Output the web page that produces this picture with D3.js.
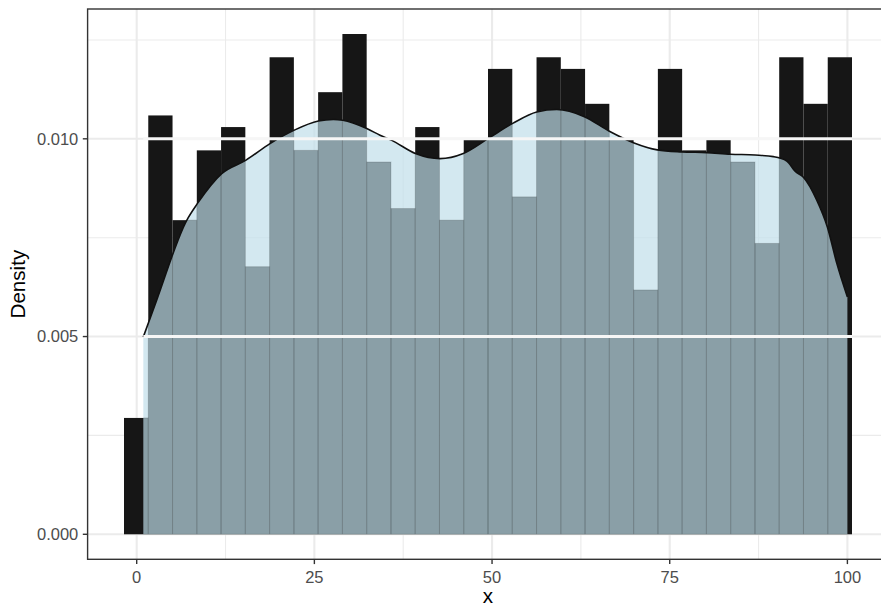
<!DOCTYPE html>
<html>
<head>
<meta charset="utf-8">
<script src="https://cdn.jsdelivr.net/npm/d3@7"></script>
<style>
  html, body { margin: 0; padding: 0; background: #fff; }
  svg { display: block; }
  text { font-family: "Liberation Sans", Arial, sans-serif; }
</style>
</head>
<body>
<div id="chart"></div>
<script>
// ---------------- data ----------------
const binEdges = [-1.787, 1.628, 5.042, 8.457, 11.871, 15.286, 18.700, 22.115, 25.529, 28.944,
  32.358, 35.773, 39.187, 42.602, 46.016, 49.431, 52.845, 56.260, 59.674, 63.089,
  66.503, 69.918, 73.332, 76.747, 80.161, 83.576, 86.990, 90.405, 93.819, 97.234, 100.648];
const binDensity = [0.002942, 0.010591, 0.007943, 0.009708, 0.010297, 0.006766, 0.012062, 0.009708,
  0.011179, 0.012650, 0.009414, 0.008237, 0.010297, 0.007943, 0.010002, 0.011768, 0.008532,
  0.012062, 0.011768, 0.010885, 0.010002, 0.006178, 0.011768, 0.009708, 0.010002, 0.009414,
  0.007355, 0.012062, 0.010885, 0.012062];
const densityX = [0.93, 2.81, 7.04, 8.53, 11.96, 15.38, 18.76, 22.18, 25.56, 27.67, 28.99, 32.37,
  34.24, 35.89, 39.21, 42.68, 45.96, 49.48, 52.91, 56.29, 59.11, 62.99, 66.51, 69.89, 73.26,
  76.70, 80.21, 83.54, 87.01, 89.59, 91.47, 92.64, 93.81, 95.69, 97.18, 98.51, 100.00];
const densityY = [0.00499, 0.00592, 0.00794, 0.00836, 0.00912, 0.00946, 0.00988, 0.01022, 0.01045,
  0.01049, 0.01047, 0.01026, 0.01009, 0.00996, 0.00963, 0.00950, 0.00963, 0.01001, 0.01039,
  0.01068, 0.01074, 0.01056, 0.01019, 0.00990, 0.00972, 0.00967, 0.00965, 0.00961, 0.00959,
  0.00955, 0.00944, 0.00918, 0.00903, 0.00845, 0.00777, 0.00685, 0.00600];
const xTicks = [0, 25, 50, 75, 100];
const xMinor = [12.5, 37.5, 62.5, 87.5];
const yTicks = [0.000, 0.005, 0.010];
const yMinor = [0.0025, 0.0075, 0.0125];
const yTickLabels = ["0.000", "0.005", "0.010"];
const xTickLabels = ["0", "25", "50", "75", "100"];
const hLines = [0.005, 0.010];
const xTitle = "x";
const yTitle = "Density";

// ---------------- layout ----------------
const W = 881, H = 607;
const panel = { left: 87.6, right: 888.4, top: 9, bottom: 559.3 };

const bins = binDensity.map((d, i) => ({ x0: binEdges[i], x1: binEdges[i + 1], d }));
const dens = densityX.map((x, i) => ({ x, y: densityY[i] }));

// ggplot-like 5% expansion
const xLo = Math.min(binEdges[0], densityX[0]);
const xHi = Math.max(binEdges[binEdges.length - 1], densityX[densityX.length - 1]);
const xPad = (xHi - xLo) * 0.05;
const yHi = Math.max(d3.max(binDensity), d3.max(densityY));
const yPad = yHi * 0.05;

const x = d3.scaleLinear().domain([xLo - xPad, xHi + xPad]).range([panel.left, panel.right]);
const y = d3.scaleLinear().domain([-yPad, yHi + yPad]).range([panel.bottom, panel.top]);

const svg = d3.select("#chart").append("svg").attr("width", W).attr("height", H);

svg.append("defs").append("clipPath").attr("id", "panelClip")
  .append("rect").attr("x", panel.left).attr("y", panel.top)
  .attr("width", panel.right - panel.left).attr("height", panel.bottom - panel.top);

const g = svg.append("g").attr("clip-path", "url(#panelClip)");

g.append("rect").attr("x", panel.left).attr("y", panel.top)
  .attr("width", panel.right - panel.left).attr("height", panel.bottom - panel.top)
  .attr("fill", "#fff");

// grid (minor then major)
const gridColor = "#EBEBEB";
g.selectAll(".ymin").data(yMinor).join("line")
  .attr("x1", panel.left).attr("x2", panel.right)
  .attr("y1", d => y(d)).attr("y2", d => y(d))
  .attr("stroke", gridColor).attr("stroke-width", 1.1);
g.selectAll(".xmin").data(xMinor).join("line")
  .attr("y1", panel.top).attr("y2", panel.bottom)
  .attr("x1", d => x(d)).attr("x2", d => x(d))
  .attr("stroke", gridColor).attr("stroke-width", 1.1);
g.selectAll(".ymaj").data(yTicks).join("line")
  .attr("x1", panel.left).attr("x2", panel.right)
  .attr("y1", d => y(d)).attr("y2", d => y(d))
  .attr("stroke", gridColor).attr("stroke-width", 2.1);
g.selectAll(".xmaj").data(xTicks).join("line")
  .attr("y1", panel.top).attr("y2", panel.bottom)
  .attr("x1", d => x(d)).attr("x2", d => x(d))
  .attr("stroke", gridColor).attr("stroke-width", 2.1);

// histogram bars (black)
g.selectAll(".bar").data(bins).join("rect")
  .attr("x", d => x(d.x0)).attr("width", d => x(d.x1) - x(d.x0))
  .attr("y", d => y(d.d)).attr("height", d => y(0) - y(d.d))
  .attr("fill", "#161616");

// density area
const area = d3.area().x(d => x(d.x)).y0(y(0)).y1(d => y(d.y)).curve(d3.curveMonotoneX);
const line = d3.line().x(d => x(d.x)).y(d => y(d.y)).curve(d3.curveMonotoneX);

svg.select("defs").append("clipPath").attr("id", "areaClip")
  .append("path").attr("d", area(dens));

g.append("path").attr("d", area(dens))
  .attr("fill", "#BFDDE9").attr("fill-opacity", 0.69);

// bar outlines visible through the density fill
g.append("g").attr("clip-path", "url(#areaClip)")
  .selectAll("rect").data(bins).join("rect")
  .attr("x", d => x(d.x0)).attr("width", d => x(d.x1) - x(d.x0))
  .attr("y", d => y(d.d)).attr("height", d => y(0) - y(d.d))
  .attr("fill", "none").attr("stroke", "#000").attr("stroke-opacity", 0.15)
  .attr("stroke-width", 1);

// density curve
g.append("path").attr("d", line(dens))
  .attr("fill", "none").attr("stroke", "#111").attr("stroke-width", 1.6);

// white horizontal lines
g.selectAll(".hl").data(hLines).join("line")
  .attr("x1", x(densityX[0])).attr("x2", x(binEdges[binEdges.length - 1]))
  .attr("y1", d => y(d)).attr("y2", d => y(d))
  .attr("stroke", "#F6F6F6").attr("stroke-width", 3);

// panel border
svg.append("rect").attr("x", panel.left).attr("y", panel.top)
  .attr("width", panel.right - panel.left).attr("height", panel.bottom - panel.top)
  .attr("fill", "none").attr("stroke", "#333333").attr("stroke-width", 1.4);

// axes ticks
const tickColor = "#333333";
svg.selectAll(".yt").data(yTicks).join("line")
  .attr("x1", panel.left - 4.8).attr("x2", panel.left)
  .attr("y1", d => y(d)).attr("y2", d => y(d))
  .attr("stroke", tickColor).attr("stroke-width", 1.4);
svg.selectAll(".xt").data(xTicks).join("line")
  .attr("y1", panel.bottom).attr("y2", panel.bottom + 4.8)
  .attr("x1", d => x(d)).attr("x2", d => x(d))
  .attr("stroke", tickColor).attr("stroke-width", 1.4);

// tick labels
svg.selectAll(".ytl").data(yTicks).join("text")
  .attr("x", panel.left - 9.3).attr("y", d => y(d)).attr("dy", "0.36em")
  .attr("text-anchor", "end").attr("font-size", 16.5).attr("fill", "#4D4D4D")
  .text((d, i) => yTickLabels[i]);
svg.selectAll(".xtl").data(xTicks).join("text")
  .attr("x", d => x(d)).attr("y", 582.5)
  .attr("text-anchor", "middle").attr("font-size", 16.5).attr("fill", "#4D4D4D")
  .text((d, i) => xTickLabels[i]);

// titles
svg.append("text").attr("x", (panel.left + panel.right) / 2).attr("y", 602.5)
  .attr("text-anchor", "middle").attr("font-size", 20.6).attr("fill", "#000")
  .text(xTitle);
svg.append("text")
  .attr("transform", `translate(24.5, ${(panel.top + panel.bottom) / 2}) rotate(-90)`)
  .attr("text-anchor", "middle").attr("font-size", 20.6).attr("fill", "#000")
  .text(yTitle);
</script>
</body>
</html>
